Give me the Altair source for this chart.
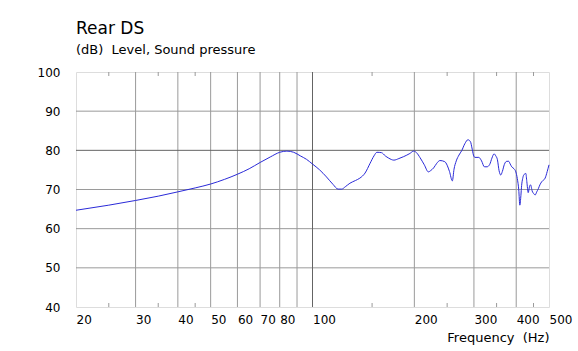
import altair as alt
import pandas as pd

# Frequency response (Hz, dB)
freq = [20, 25, 30, 35, 40, 45, 50, 55, 60, 65, 70, 75, 80, 84, 88, 92, 96, 100,
        105, 110, 115, 119, 122, 125, 129, 134, 138, 143, 148, 152, 155, 160, 164,
        168, 174, 180, 186, 194, 199, 203, 208, 214, 220, 224, 228, 233, 238, 246,
        250, 254, 259, 262, 266, 271, 276, 282, 288, 293, 296, 299, 302, 310, 316,
        322, 328, 334, 339, 344, 348, 352, 356, 360, 364, 369, 375, 380, 384, 388,
        394, 399, 403, 407, 410, 413, 415, 418, 421, 427, 430, 434, 438, 441, 446,
        451, 455, 460, 465, 470, 476, 487, 494, 500]
level = [64.7, 66.0, 67.2, 68.3, 69.4, 70.4, 71.4, 72.6, 73.9, 75.3, 76.9, 78.3, 79.5,
         79.8, 79.5, 78.6, 77.7, 76.5, 75.0, 73.2, 71.3, 70.1, 70.1, 70.7, 71.6, 72.3,
         72.9, 74.2, 76.7, 78.6, 79.5, 79.4, 78.6, 78.0, 77.5, 77.9, 78.4, 79.2, 79.8,
         79.4, 78.1, 76.3, 74.5, 74.9, 75.5, 76.7, 77.4, 77.1, 76.2, 74.6, 72.2, 75.2,
         77.3, 78.8, 79.9, 81.7, 82.7, 82.2, 80.6, 78.8, 78.2, 78.2, 77.3, 75.8, 75.8,
         76.4, 78.0, 79.1, 78.6, 77.6, 74.8, 73.7, 74.6, 76.4, 77.2, 77.2, 76.5, 75.8,
         75.3, 74.5, 72.8, 69.9, 66.0, 68.5, 71.0, 72.8, 73.7, 74.1, 72.0, 69.2, 70.8,
         71.2, 69.6, 68.9, 68.6, 69.4, 70.2, 71.2, 72.0, 72.9, 74.6, 76.3]

x_labels = [20, 30, 40, 50, 60, 70, 80, 100, 200, 300, 400, 500]
x_grid_light = [30, 40, 50, 60, 70, 80, 90, 200, 300, 400]
x_grid_dark = [100]
x_minor = [25, 35, 45, 150, 250, 350, 450]
y_labels = [40, 50, 60, 70, 80, 90, 100]
y_grid_light = [50, 60, 70, 90]
y_grid_dark = [80]

W, H = 473, 235
FONT = "DejaVu Sans"
LIGHT = "#9a9a9a"
DARK = "#646464"

xs = alt.Scale(type="log", domain=[20, 500])
ys = alt.Scale(domain=[40, 100])

x_axis = alt.Axis(values=x_labels, labelAlign="left", labelBaseline="top",
                  labelPadding=7, ticks=False, tickSize=0, grid=False, domain=False,
                  labelFlush=False, labelOverlap=False,
                  labelExpr="format(datum.value, 'd')",
                  labelFont=FONT, labelFontSize=12, labelColor="#000000",
                  title="Frequency\u00a0\u00a0(Hz)", titleAnchor="end", titleAlign="right",
                  titleFont=FONT, titleFontSize=13, titleFontWeight="normal",
                  titleColor="#000000", titlePadding=6)
y_axis = alt.Axis(values=y_labels, labelAlign="right", labelBaseline="middle",
                  labelPadding=16, ticks=False, tickSize=0, grid=False, domain=False,
                  labelFlush=False, labelOverlap=False,
                  labelFont=FONT, labelFontSize=12, labelColor="#000000", title=None)

curve = pd.DataFrame({"f": freq, "db": level})

def vrules(vals, color):
    return alt.Chart(pd.DataFrame({"f": vals})).mark_rule(color=color, strokeWidth=1).encode(
        x=alt.X("f:Q", scale=xs, axis=x_axis))

def hrules(vals, color):
    return alt.Chart(pd.DataFrame({"db": vals})).mark_rule(color=color, strokeWidth=1).encode(
        y=alt.Y("db:Q", scale=ys, axis=y_axis))

minor_df = pd.DataFrame({"f": x_minor})
minor_bottom = alt.Chart(minor_df).mark_rule(color=LIGHT).encode(
    x=alt.X("f:Q", scale=xs, axis=x_axis), y=alt.value(H), y2=alt.value(H - 4))
minor_top = alt.Chart(minor_df).mark_rule(color=LIGHT).encode(
    x=alt.X("f:Q", scale=xs, axis=x_axis), y=alt.value(0), y2=alt.value(4))

line = alt.Chart(curve).mark_line(color="#2a2ad8", strokeWidth=1, interpolate="monotone").encode(
    x=alt.X("f:Q", scale=xs, axis=x_axis),
    y=alt.Y("db:Q", scale=ys, axis=y_axis),
)

chart = alt.layer(
    vrules(x_grid_light, LIGHT), hrules(y_grid_light, LIGHT),
    vrules(x_grid_dark, DARK), hrules(y_grid_dark, DARK),
    minor_bottom, minor_top, line,
).properties(
    width=W, height=H,
    title=alt.TitleParams("Rear DS", subtitle="(dB)\u00a0\u00a0Level, Sound pressure",
                          anchor="start", frame="group", font=FONT, fontSize=17,
                          fontWeight="normal", color="#000000",
                          subtitleFont=FONT, subtitleFontSize=13, subtitleColor="#000000",
                          offset=8, subtitlePadding=6),
    autosize=alt.AutoSizeParams(type="none"),
    padding={"left": 76, "top": 72, "right": 29, "bottom": 44},
).configure_view(stroke=DARK, strokeWidth=1).configure(background="white")

chart.save("out.html", embed_options={"renderer": "svg", "actions": False})
